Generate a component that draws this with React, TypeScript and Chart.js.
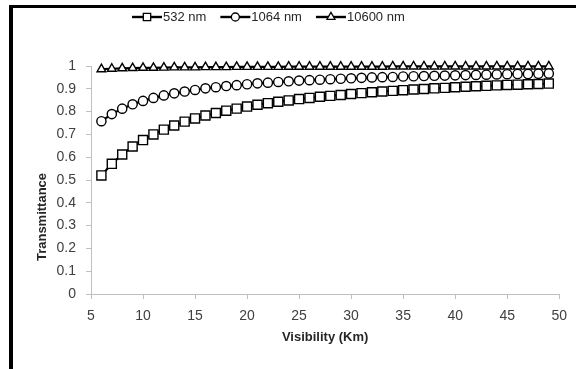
import React, { useEffect, useRef } from "react";
import { Chart, registerables } from "chart.js";

Chart.register(...registerables);

const visibility = [6,7,8,9,10,11,12,13,14,15,16,17,18,19,20,21,22,23,24,25,26,27,28,29,30,31,32,33,34,35,36,37,38,39,40,41,42,43,44,45,46,47,48,49];

const t532 = [0.520,0.571,0.612,0.647,0.675,0.700,0.721,0.739,0.756,0.770,0.783,0.794,0.804,0.813,0.822,0.830,0.837,0.843,0.849,0.855,0.860,0.865,0.869,0.873,0.877,0.881,0.885,0.888,0.891,0.894,0.897,0.899,0.902,0.904,0.907,0.909,0.911,0.913,0.915,0.917,0.918,0.920,0.921,0.923];

const t1064 = [0.758,0.789,0.813,0.832,0.847,0.860,0.871,0.880,0.888,0.895,0.902,0.907,0.912,0.916,0.920,0.924,0.927,0.930,0.933,0.936,0.938,0.940,0.942,0.944,0.946,0.948,0.950,0.951,0.952,0.954,0.955,0.956,0.957,0.958,0.959,0.960,0.961,0.962,0.963,0.964,0.965,0.965,0.966,0.967];

const t10600 = [0.986,0.988,0.990,0.991,0.992,0.992,0.993,0.994,0.994,0.994,0.995,0.995,0.995,0.996,0.996,0.996,0.996,0.996,0.997,0.997,0.997,0.997,0.997,0.997,0.997,0.997,0.997,0.997,0.998,0.998,0.998,0.998,0.998,0.998,0.998,0.998,0.998,0.998,0.998,0.998,0.998,0.998,0.998,0.998];

const seriesNames = ["532 nm", "1064 nm", "10600 nm"];
const seriesStyles = ["rect", "circle", "triangle"];
const seriesRadius = [6.4, 4.6, 5];

const xTitle = "Visibility (Km)";
const yTitle = "Transmittance";

const overlayPlugin = {
  id: "overlay",
  beforeDraw(chart: any) {
    const ctx = chart.ctx;
    ctx.save();
    ctx.fillStyle = "#ffffff";
    ctx.fillRect(0, 0, chart.width, chart.height);
    ctx.fillStyle = "#000000";
    ctx.fillRect(9, 5, 4, chart.height - 5);
    ctx.fillRect(9, 5, chart.width - 9, 3);
    ctx.restore();
  },
  afterDraw(chart: any) {
    const ctx = chart.ctx;
    const area = chart.chartArea;
    ctx.save();
    // axis titles
    ctx.fillStyle = "#262626";
    ctx.font = "bold 13px 'Liberation Sans', Arial, sans-serif";
    ctx.textAlign = "center";
    ctx.textBaseline = "middle";
    ctx.fillText(xTitle, (area.left + area.right) / 2, 337);
    ctx.save();
    ctx.translate(42, 217);
    ctx.rotate(-Math.PI / 2);
    ctx.fillText(yTitle, 0, 0);
    ctx.restore();

    // legend
    ctx.font = "13px 'Liberation Sans', Arial, sans-serif";
    ctx.textAlign = "left";
    let x = 132;
    const y = 17;
    chart.data.datasets.forEach((ds: any, i: number) => {
      ctx.strokeStyle = "#000";
      ctx.lineWidth = 2.4;
      ctx.beginPath();
      ctx.moveTo(x, y);
      ctx.lineTo(x + 30, y);
      ctx.stroke();
      ctx.lineWidth = 1.3;
      ctx.fillStyle = "#fff";
      const r = i === 0 ? 5.2 : 4;
      ctx.beginPath();
      if (seriesStyles[i] === "rect") {
        ctx.rect(x + 15 - r * 0.707, y - r * 0.707, r * 1.414, r * 1.414);
      } else if (seriesStyles[i] === "circle") {
        ctx.arc(x + 15, y, r, 0, Math.PI * 2);
      } else {
        const cx = x + 15;
        const rr = r + 0.6;
        ctx.moveTo(cx, y - rr);
        ctx.lineTo(cx + rr * 0.866, y + rr * 0.5);
        ctx.lineTo(cx - rr * 0.866, y + rr * 0.5);
        ctx.closePath();
      }
      ctx.fill();
      ctx.stroke();
      ctx.fillStyle = "#262626";
      ctx.fillText(seriesNames[i], x + 31, y + 0.5);
      x += 31 + ctx.measureText(seriesNames[i]).width + 14;
    });
    ctx.restore();
  },
};

export default function App() {
  const ref = useRef<HTMLCanvasElement | null>(null);
  useEffect(() => {
    if (!ref.current) return;
    const mk = (name: string, vals: number[], i: number) => ({
      label: name,
      data: visibility.map((v, k) => ({ x: v, y: vals[k] })),
      borderColor: "#000000",
      borderWidth: 2.2,
      backgroundColor: "#ffffff",
      pointStyle: seriesStyles[i] as any,
      pointRadius: seriesRadius[i],
      pointBorderWidth: 1.4,
      pointBorderColor: "#000000",
      pointBackgroundColor: "#ffffff",
      tension: 0,
      fill: false,
      clip: false as any,
    });
    const chart = new Chart(ref.current, {
      type: "line",
      data: {
        datasets: [
          mk(seriesNames[0], t532, 0),
          mk(seriesNames[1], t1064, 1),
          mk(seriesNames[2], t10600, 2),
        ],
      },
      options: {
        animation: false,
        responsive: false,
        maintainAspectRatio: false,
        layout: { padding: { left: 0, top: 66, right: 15, bottom: 0 } },
        plugins: {
          legend: { display: false },
          tooltip: { enabled: false },
        },
        scales: {
          x: {
            type: "linear",
            min: 5,
            max: 50,
            ticks: {
              stepSize: 5,
              padding: 9,
              color: "#404040",
              font: { size: 14, family: "'Liberation Sans', Arial, sans-serif" },
              maxRotation: 0,
            },
            grid: { drawOnChartArea: false, drawTicks: true, tickLength: 5, color: "#bfbfbf" },
            border: { display: true, color: "#bfbfbf", width: 1 },
            afterFit: (s: any) => { s.height = 75; },
          },
          y: {
            type: "linear",
            min: 0,
            max: 1,
            ticks: {
              stepSize: 0.1,
              padding: 10,
              color: "#404040",
              font: { size: 14, family: "'Liberation Sans', Arial, sans-serif" },
              callback: (v: any) => String(Number(Number(v).toFixed(1))),
            },
            grid: { drawOnChartArea: false, drawTicks: true, tickLength: 5, color: "#bfbfbf" },
            border: { display: true, color: "#bfbfbf", width: 1 },
            afterFit: (s: any) => { s.width = 91; },
          },
        },
      },
      plugins: [overlayPlugin],
    });
    return () => chart.destroy();
  }, []);
  return (
    <canvas
      ref={ref}
      width={576}
      height={369}
      style={{ position: "fixed", left: 0, top: 0, width: 576, height: 369 }}
    />
  );
}
